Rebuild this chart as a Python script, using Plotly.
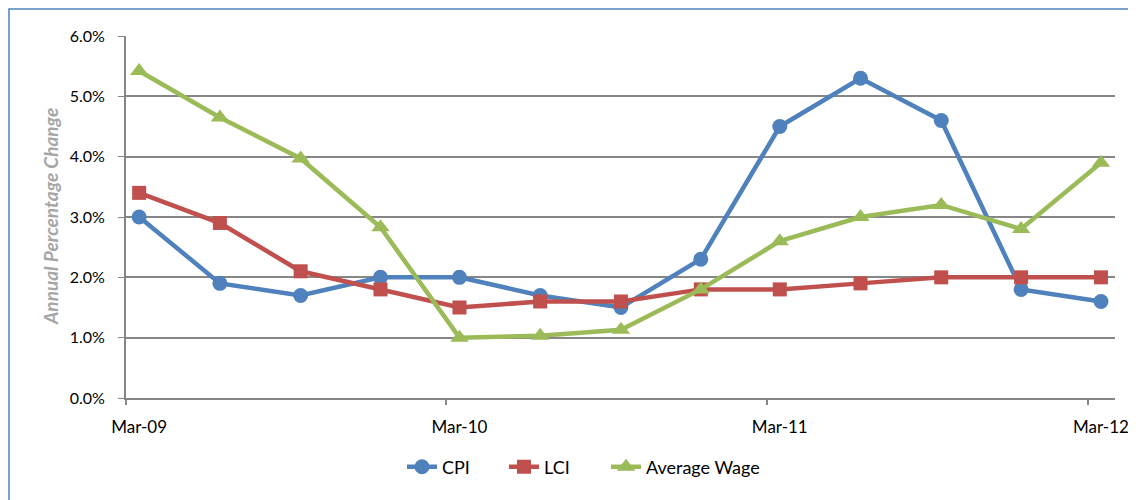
import plotly.graph_objects as go

dates = ["2009-03-16", "2009-06-16", "2009-09-16", "2009-12-16",
         "2010-03-16", "2010-06-16", "2010-09-16", "2010-12-16",
         "2011-03-16", "2011-06-16", "2011-09-16", "2011-12-16",
         "2012-03-16"]
cpi = [3.0, 1.9, 1.7, 2.0, 2.0, 1.7, 1.5, 2.3, 4.5, 5.3, 4.6, 1.8, 1.6]
lci = [3.4, 2.9, 2.1, 1.8, 1.5, 1.6, 1.6, 1.8, 1.8, 1.9, 2.0, 2.0, 2.0]
wage = [5.42, 4.65, 3.97, 2.83, 1.0, 1.03, 1.13, 1.8, 2.6, 3.0, 3.2, 2.8, 3.9]

label_vals = ["2009-03-16", "2010-03-16", "2011-03-16", "2012-03-16"]
tick_marks = ["2009-03-01", "2010-03-01", "2011-03-01", "2012-03-01"]
tick_text = ["Mar-09", "Mar-10", "Mar-11", "Mar-12"]

FONT = "Lato"

fig = go.Figure()
fig.add_trace(go.Scatter(x=dates, y=cpi, name="CPI", mode="lines+markers",
                         line=dict(color="#4F81BD", width=4.5),
                         marker=dict(symbol="circle", size=15, color="#4F81BD"),
                         legend="legend"))
fig.add_trace(go.Scatter(x=dates, y=lci, name="LCI", mode="lines+markers",
                         line=dict(color="#C0504D", width=4.5),
                         marker=dict(symbol="square", size=14, color="#C0504D"),
                         legend="legend2"))
fig.add_trace(go.Scatter(x=dates, y=wage, name="Average Wage", mode="lines+markers",
                         line=dict(color="#9BBB59", width=4.5),
                         marker=dict(symbol="triangle-up", size=16, color="#9BBB59"),
                         legend="legend3"))

# figure is offset by the page's 8px body margin
L, T, PW, PH = 118, 28, 989, 362


def leg(screen_x):
    return dict(orientation="h", x=(screen_x - 126) / PW, xanchor="left",
                y=(398 - 467) / PH, yanchor="middle", bgcolor="rgba(0,0,0,0)",
                font=dict(family=FONT, size=18, color="#000000"))


fig.update_layout(
    width=1128, height=492,
    margin=dict(l=L, r=1128 - L - PW, t=T, b=492 - T - PH, autoexpand=False),
    paper_bgcolor="white", plot_bgcolor="white",
    font=dict(family=FONT, size=15, color="#000000"),
    showlegend=True,
    legend=leg(402), legend2=leg(504), legend3=leg(606),
    shapes=[dict(type="rect", xref="paper", yref="paper",
                 x0=(1 - L) / PW, x1=(1140 - L) / PW,
                 y0=(T + PH - 510) / PH, y1=(T + PH - 1) / PH,
                 line=dict(color="#4F81BD", width=1.5), fillcolor="rgba(0,0,0,0)",
                 layer="below")],
    annotations=[dict(text="<b><i>Annual Percentage Change</i></b>",
                      xref="paper", yref="paper", x=(50 - 126) / PW, y=0.5,
                      xanchor="center", yanchor="middle", textangle=-90,
                      showarrow=False,
                      font=dict(family=FONT, size=19, color="#A6A6A6"))],
)

fig.update_xaxes(
    type="date", range=["2009-03-01", "2012-04-01"], automargin=False,
    tickmode="array", tickvals=label_vals, ticktext=tick_text,
    showgrid=False, showline=True, linecolor="#868686", linewidth=2,
    ticks="outside", ticklen=5, tickcolor="rgba(0,0,0,0)", tickwidth=1,
    ticklabelstandoff=8,
    tickfont=dict(family=FONT, size=17, color="#000000"),
    minor=dict(tickmode="array", tickvals=tick_marks, ticks="outside",
               ticklen=5, tickcolor="#868686", tickwidth=1.5, showgrid=False),
    zeroline=False,
)
fig.update_yaxes(
    range=[0, 6], dtick=1, tickformat=".1f", ticksuffix="%", automargin=False,
    showgrid=True, gridcolor="#868686", gridwidth=1.5,
    showline=True, linecolor="#868686", linewidth=2,
    ticks="outside", ticklen=6, tickcolor="#868686", tickwidth=1,
    ticklabelstandoff=10,
    tickfont=dict(family=FONT, size=16, color="#000000"),
    zeroline=False,
)

fig.write_html("out.html")
